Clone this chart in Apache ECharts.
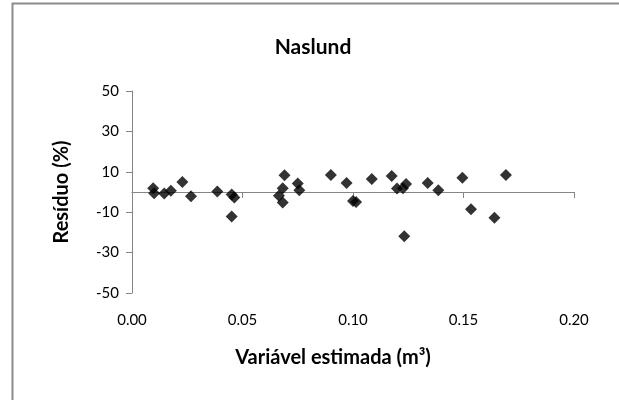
<!DOCTYPE html>
<html><head><meta charset="utf-8">
<script src="https://cdn.jsdelivr.net/npm/echarts@6/dist/echarts.min.js"></script>
<style>html,body{margin:0;padding:0;background:#fff}#c{width:619px;height:400px}</style>
</head><body><div id="c"></div>
<script>
const chartTitle = "Naslund";
const xTitle = "Variável estimada (m³)";
const yTitle = "Resíduo (%)";
const xTicks = [0, 0.05, 0.10, 0.15, 0.20];
const yTicks = [-50, -30, -10, 10, 30, 50];
const estimated = [0.0096, 0.0100, 0.0146, 0.0176, 0.0228, 0.0267, 0.0386, 0.0451, 0.0463, 0.0451,
  0.0690, 0.0682, 0.0665, 0.0682, 0.0750, 0.0757, 0.0900, 0.0971, 0.1000, 0.1014,
  0.1085, 0.1175, 0.1199, 0.1226, 0.1240, 0.1232, 0.1338, 0.1386, 0.1495, 0.1534, 0.1640, 0.1692];
const residual = [1.8, -0.6, -0.7, 0.6, 5.0, -2.1, 0.2, -1.2, -2.7, -12.1,
  8.3, 1.8, -1.9, -5.2, 4.2, 0.9, 8.4, 4.5, -4.5, -5.0,
  6.4, 7.9, 1.7, 1.9, 3.9, -21.9, 4.5, 0.9, 7.0, -8.5, -12.8, 8.4];

const font = 'Lato, "Open Sans", sans-serif';
const chart = echarts.init(document.getElementById('c'));
const gridLeft = 132, gridRight = 45, gridTop = 91, gridBottom = 107;
chart.setOption({
  animation: false,
  backgroundColor: '#fff',
  title: {text: chartTitle, left: 308, top: 32, textAlign: 'center',
    textStyle: {fontFamily: font, fontWeight: 'bold', fontSize: 21, color: '#000'}},
  grid: {left: gridLeft, right: gridRight, top: gridTop, bottom: gridBottom},
  xAxis: [{
    type: 'value', min: xTicks[0], max: xTicks[xTicks.length-1], interval: 0.05,
    axisLine: {show: false, onZero: false}, axisTick: {show: false}, splitLine: {show: false},
    axisLabel: {margin: 20, fontFamily: font, fontSize: 15, color: '#000',
      formatter: v => v.toFixed(2)}
  }, {
    type: 'value', min: xTicks[0], max: xTicks[xTicks.length-1], interval: 0.05,
    position: 'bottom',
    axisLine: {show: true, onZero: true, lineStyle: {color: '#868686', width: 1}},
    axisTick: {show: true, length: 6, lineStyle: {color: '#868686'}},
    axisLabel: {show: false}, splitLine: {show: false}
  }],
  yAxis: {
    type: 'value', min: yTicks[0], max: yTicks[yTicks.length-1], interval: 20,
    axisLine: {show: true, onZero: false, lineStyle: {color: '#868686', width: 1}},
    axisTick: {show: true, length: 6, lineStyle: {color: '#868686'}},
    splitLine: {show: false},
    axisLabel: {margin: 13, fontFamily: font, fontSize: 15, color: '#000'}
  },
  graphic: [
    {type: 'rect', shape: {x: 12.5, y: 3.5, width: 640, height: 420},
      style: {fill: 'none', stroke: '#8c8c8c', lineWidth: 2}, silent: true},
    {type: 'text', x: 333, y: 358,
      style: {text: xTitle, fontFamily: font, fontWeight: 'bold', fontSize: 20, fill: '#000',
        align: 'center', verticalAlign: 'middle'}},
    {type: 'text', x: 62, y: 192, rotation: Math.PI/2,
      style: {text: yTitle, fontFamily: font, fontWeight: 'bold', fontSize: 20, fill: '#000',
        align: 'center', verticalAlign: 'middle'}}
  ],
  series: [{
    type: 'scatter', xAxisIndex: 0, symbol: 'diamond', symbolSize: 12,
    itemStyle: {color: '#000'},
    data: estimated.map((x, i) => [x, residual[i]])
  }]
});
</script></body></html>
